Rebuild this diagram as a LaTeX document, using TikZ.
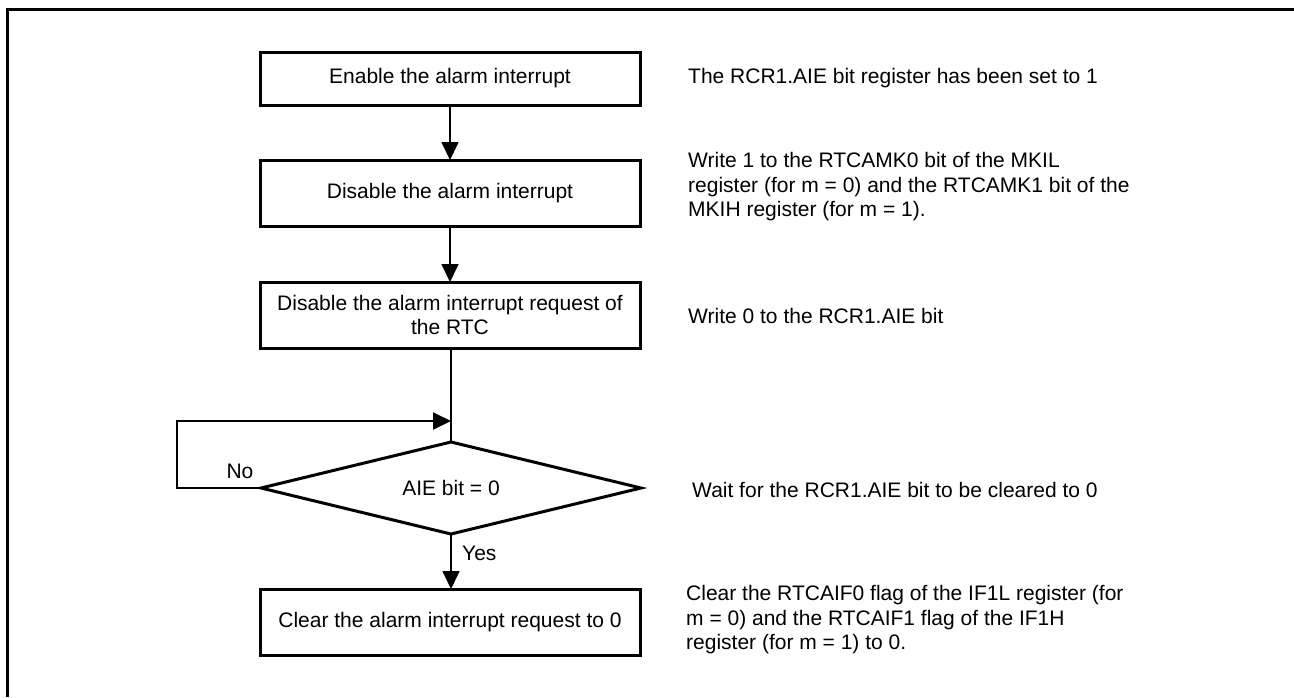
\documentclass[tikz,border=0pt]{standalone}
\usepackage{fontspec}
\setmainfont{Liberation Sans}
\usetikzlibrary{shapes.geometric,arrows.meta}
\begin{document}
\begin{tikzpicture}[x=1pt,y=-1pt,
  every node/.style={font=\fontsize{21}{24.5}\selectfont},
  box/.style={draw, line width=3pt, minimum width=380pt, inner sep=0pt, outer sep=0pt, align=center},
  dec/.style={draw, diamond, aspect=4.13, line width=3pt, minimum width=380pt, minimum height=92pt, inner sep=0pt, outer sep=0pt},
  note/.style={anchor=west, align=left, inner sep=0pt},
  arr/.style={line width=1.7pt, -{Triangle[length=18pt,width=17pt]}},
  ln/.style={line width=1.7pt}]
\useasboundingbox (0,0) rectangle (1294,697);
\draw[line width=3pt] (7,697) -- (7,9) -- (1294,9);

\node[box, minimum height=53pt] (b1) at (450,78.5) {Enable the alarm interrupt};
\node[box, minimum height=66pt] (b2) at (450,193) {Disable the alarm interrupt};
\node[box, minimum height=66pt] (b3) at (450,315) {Disable the alarm interrupt request of\\the RTC};
\node[dec] (d) at (451,488) {AIE bit = 0};
\node[box, minimum height=66pt] (b4) at (450,622) {Clear the alarm interrupt request to 0};

\coordinate (j) at (451,421);
\coordinate (lp) at (177,421);

\draw[arr] (b1) -- (b2);
\draw[arr] (b2) -- (b3);
\draw[ln] (b3.south -| d.north) -- (d.north);
\draw[arr, line width=2pt] (d.west) -| (lp) -- (j);
\draw[arr] (d.south) -- (d.south |- b4.north);

\node (no) at (240,471) {No};
\node[anchor=west, inner sep=0pt] (yes) at (462,553) {Yes};

\node[note] (n1) at (688,78) {The RCR1.AIE bit register has been set to 1};
\node[note] (n2) at (688,187) {Write 1 to the RTCAMK0 bit of the MKIL\\register (for m = 0) and the RTCAMK1 bit of the\\MKIH register (for m = 1).};
\node[note] (n3) at (688,316) {Write 0 to the RCR1.AIE bit};
\node[note] (n4) at (692,490) {Wait for the RCR1.AIE bit to be cleared to 0};
\node[note] (n5) at (686,620) {Clear the RTCAIF0 flag of the IF1L register (for\\m = 0) and the RTCAIF1 flag of the IF1H\\register (for m = 1) to 0.};
\end{tikzpicture}
\end{document}
